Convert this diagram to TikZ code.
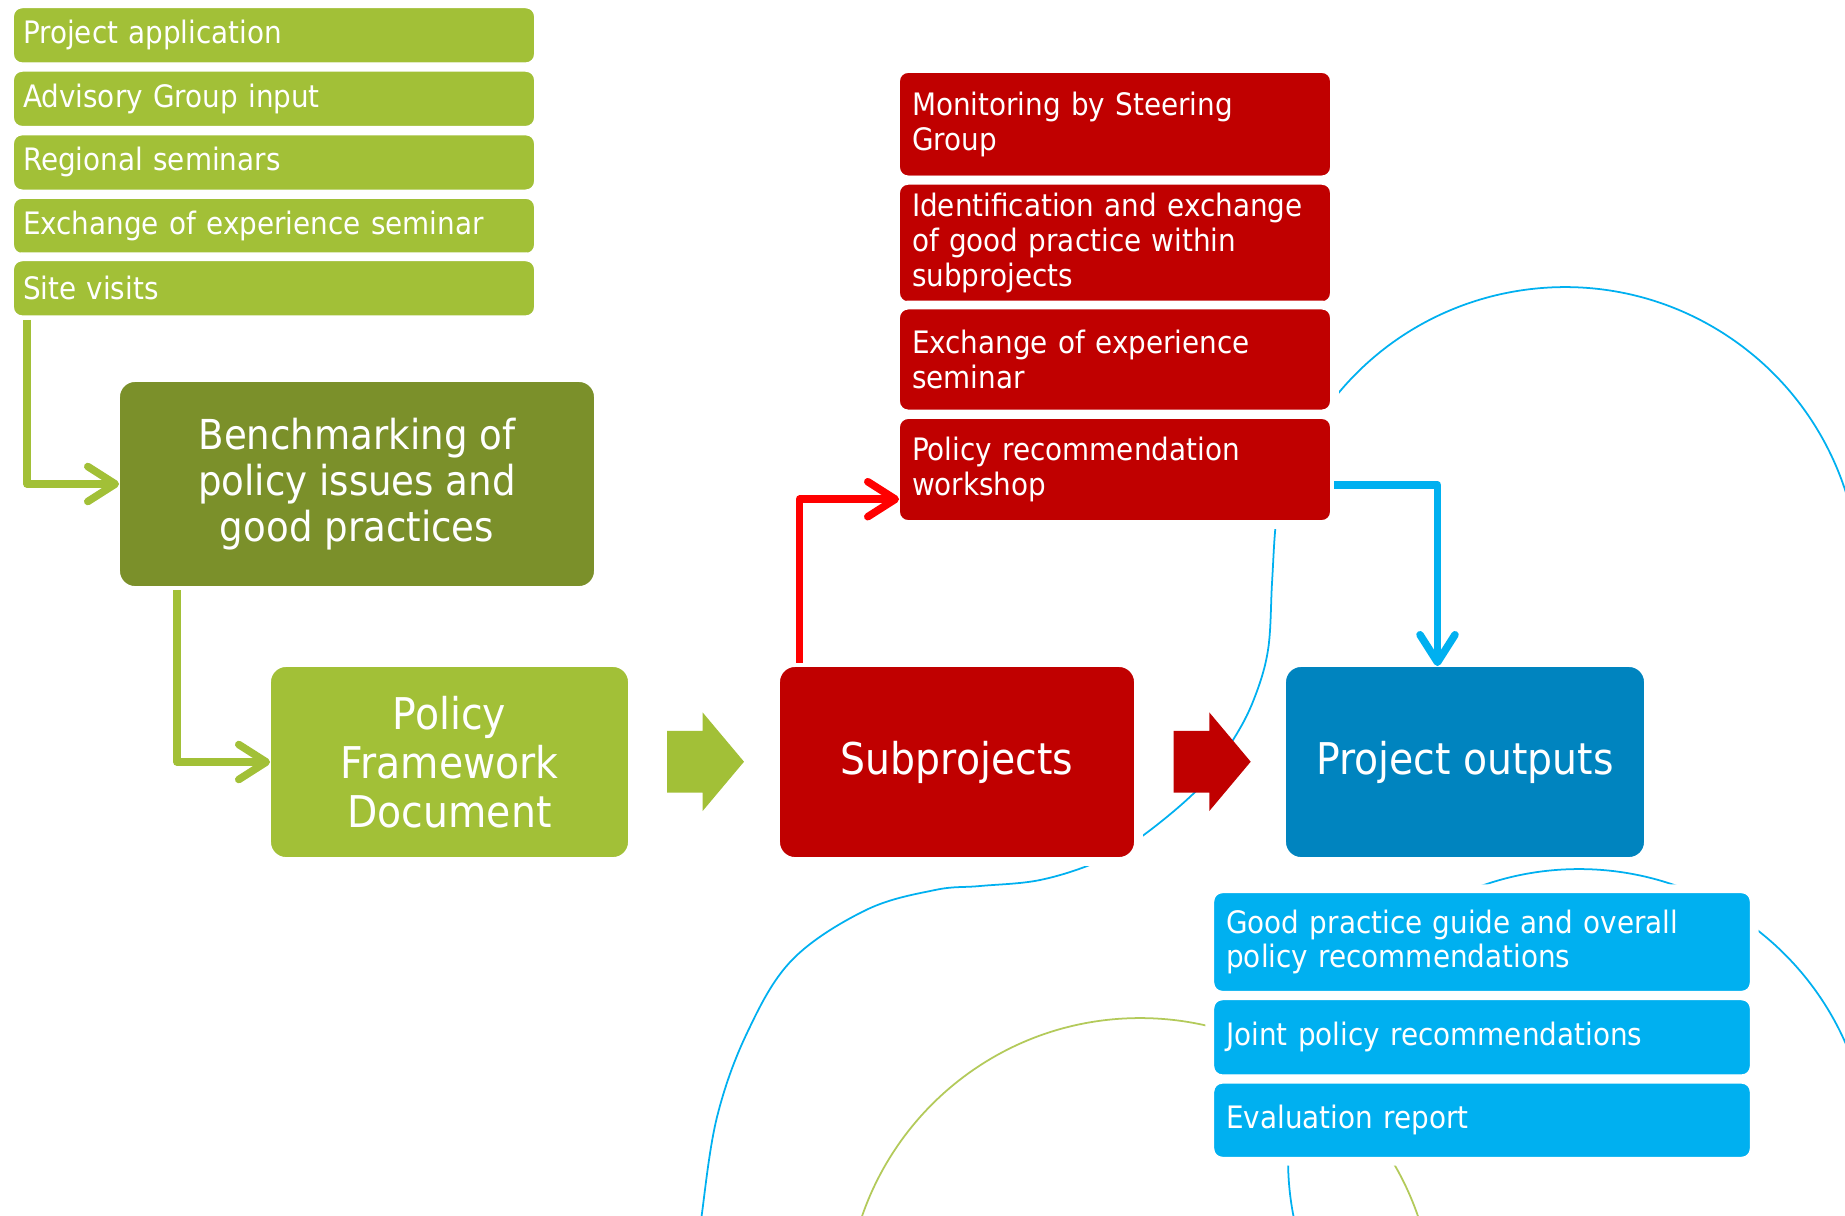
\documentclass[tikz,border=0pt]{standalone}
\usepackage{fontspec}
\setmainfont[FakeStretch=0.9]{DejaVu Sans}
\usetikzlibrary{arrows.meta,calc,shapes.arrows}

\definecolor{leafgreen}{HTML}{A2C037}
\definecolor{olivegreen}{HTML}{7B902A}
\definecolor{lightgreen}{HTML}{B3CA5A}
\definecolor{darkred}{HTML}{C00000}
\definecolor{brightred}{HTML}{FF0000}
\definecolor{seablue}{HTML}{0084BF}
\definecolor{skyblue}{HTML}{00B0F0}

\begin{document}
\begin{tikzpicture}[x=0.02cm, y=-0.02cm,%
every node/.style={text=white, draw=white, line width=5pt, outer sep=0pt},
listbox/.style={rectangle, rounded corners=0.25cm, inner sep=0pt, align=left,
font=\fontsize{17.6}{19.8}\selectfont},
greenbox/.style={listbox, fill=leafgreen, minimum width=10.58cm, minimum height=1.26cm, text width=10.04cm},
redbox/.style={listbox, fill=darkred, minimum width=8.78cm, text width=8.12cm},
bluebox/.style={listbox, fill=skyblue, minimum width=10.89cm, text width=10.23cm},
bigbox/.style={rectangle, rounded corners=0.39cm, inner sep=0pt, align=center,
minimum height=3.98cm, font=\fontsize{24.9}{27.8}\selectfont},
blockarrow/.style={single arrow, draw=none, anchor=tail, inner xsep=0pt, inner ysep=0.53cm,
single arrow head extend=0.37cm, single arrow tip angle=100, minimum height=1.54cm},
flowline/.style={line width=4.3pt, line join=round, shorten >=-2pt,
-{Straight Barb[length=0.55cm, width=0.7cm, line cap=round, line join=round]}},
swirl/.style={draw=skyblue, line width=1pt}]
\useasboundingbox (0,0) rectangle (1845,1215);
\fill[white] (0,0) rectangle (1845,1215);
% background swirls
\begin{scope}
\clip (0,0) rectangle (1845,1215);
\draw[swirl] (1323.4,412.7) arc[start angle=144.96, end angle=-10, radius=5.9cm];
\draw[swirl] plot[smooth, tension=0.6] coordinates {(1281,500) (1275.5,527)
(1272,583) (1268,650) (1253.6,700) (1233,740) (1200,787) (1141,837) (1097,862)
(1040,880) (980,886) (935,890) (866,910) (792,960) (747,1033) (717,1117)
(702,1213) (700,1240)};
\draw[swirl] (1579,1160) circle[radius=5.82cm];
\draw[swirl, draw=lightgreen] (1140,1312) circle[radius=5.88cm];
\end{scope}
\node (projApp) at (274,35.3) [greenbox] {Project application};
\node (advGroup) at (274,98.8) [greenbox] {Advisory Group input};
\node (regSem) at (274,162.4) [greenbox] {Regional seminars};
\node (exchSem) at (274,225.9) [greenbox] {Exchange of experience seminar};
\node (siteVis) at (274,288.3) [greenbox] {Site visits};
\node (bench) at (357,484) [bigbox, fill=olivegreen, minimum width=9.66cm,
minimum height=4.26cm, font=\fontsize{23.5}{26}\selectfont]
{Benchmarking of\\policy issues and\\good practices};
\node (pfd) at (449.5,762) [bigbox, fill=leafgreen, minimum width=7.32cm]
{Policy\\Framework\\Document};
\node (arrGreen) at (667,761.7) [blockarrow, fill=leafgreen] {};
\node (subproj) at (957,762) [bigbox, fill=darkred, minimum width=7.26cm] {Subprojects};
\node (arrRed) at (1173.7,761.7) [blockarrow, fill=darkred] {};
\node (outputs) at (1465,762) [bigbox, fill=seablue, minimum width=7.34cm] {Project outputs};
\node (monit) at (1115,124.2) [redbox, minimum height=2.23cm]
{Monitoring by Steering\\Group};
\node (identGP) at (1115,243) [redbox, minimum height=2.51cm]
{Identification and exchange\\of good practice within\\subprojects};
\node (exchExp) at (1115,359.5) [redbox, minimum height=2.18cm]
{Exchange of experience\\seminar};
\node (polRec) at (1115,469.5) [redbox, minimum height=2.2cm]
{Policy recommendation\\workshop};
\node (gpGuide) at (1482,942) [bluebox, minimum height=2.13cm]
{Good practice guide and overall\\policy recommendations};
\node (jointRec) at (1482,1037.3) [bluebox, minimum height=1.66cm]
{Joint policy recommendations};
\node (evalRep) at (1482,1120.2) [bluebox, minimum height=1.64cm]
{Evaluation report};
\draw[flowline, leafgreen] ([xshift=0.35cm]siteVis.south west) |- (bench.west);
\draw[flowline, leafgreen] ([xshift=1.23cm]bench.south west) |- (pfd.west);
\draw[flowline, brightred] ([xshift=0.48cm]subproj.north west)
|- ($(polRec.south west)!0.23!(polRec.north west)$);
\draw[flowline, skyblue] ($(polRec.south east)!0.36!(polRec.north east)$)
-| ($(outputs.north west)!0.425!(outputs.north east)$);
\end{tikzpicture}
\end{document}
